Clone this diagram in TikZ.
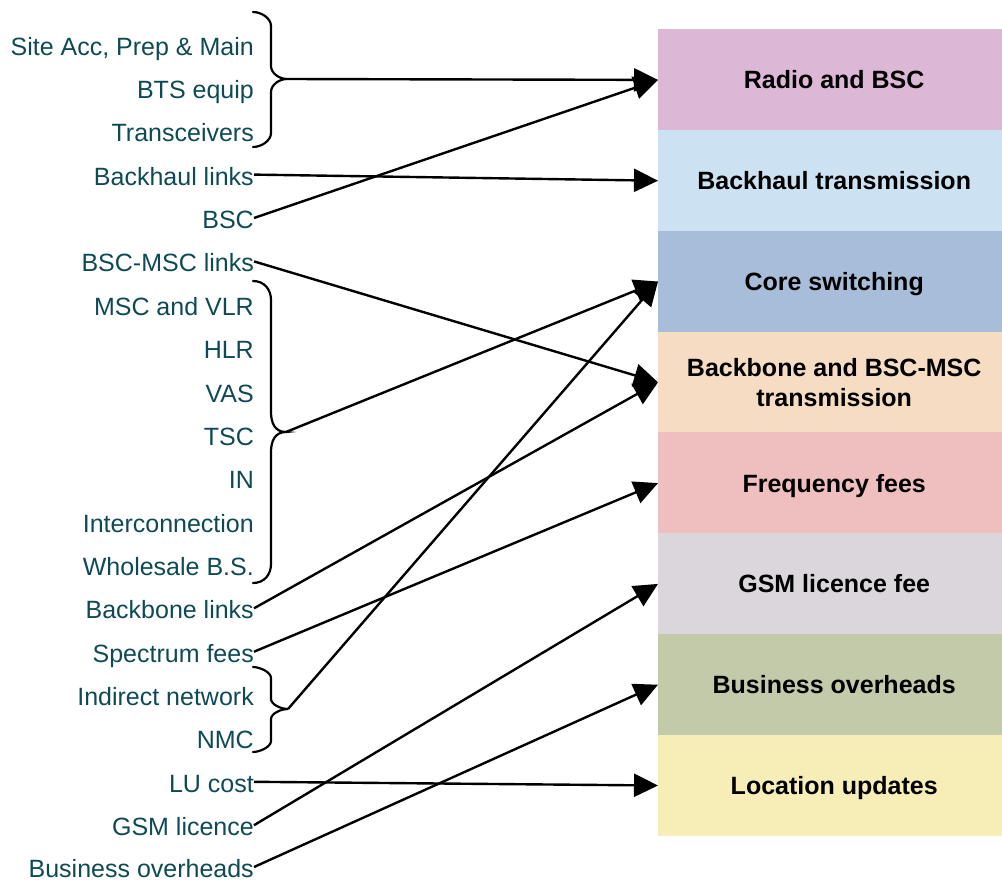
\documentclass[tikz,border=0pt]{standalone}
\usepackage{fontspec}
\setmainfont{Liberation Sans}
\usetikzlibrary{arrows.meta}
\definecolor{txt}{HTML}{0E4A54}
\definecolor{cRadio}{HTML}{DCB8D6}
\definecolor{cBackhaul}{HTML}{CCE2F2}
\definecolor{cCore}{HTML}{A8BDDA}
\definecolor{cBackbone}{HTML}{F6DCC3}
\definecolor{cFreq}{HTML}{EFBFC0}
\definecolor{cGSM}{HTML}{DBD6DB}
\definecolor{cBus}{HTML}{C3CAA9}
\definecolor{cLoc}{HTML}{F6EDB7}
\newcommand\mybrace[6]{%
  \draw[bracestyle] (253,#1) .. controls ({253+#4*0.6},#1) and (271,{#1+#4*0.45}) .. (271,{#1+#4})
    -- (271,{#2-#5}) .. controls (271,{#2-#5*0.45}) and ({287-#5*0.6},#2) .. (#6)
    .. controls ({287-#5*0.6},#2) and (271,{#2+#5*0.45}) .. (271,{#2+#5})
    -- (271,{#3-#4}) .. controls (271,{#3-#4*0.45}) and ({253+#4*0.6},#3) .. (253,#3);}
\begin{document}
\begin{tikzpicture}[x=1pt,y=-1pt,
  lbl/.style={anchor=base east,inner sep=0pt,text=txt,font=\fontsize{25}{30}\selectfont,text height=21pt,text depth=0pt},
  cbox/.style={anchor=west,inner sep=0pt,minimum width=352pt,minimum height=101.3pt,font=\fontsize{25}{30}\selectfont\bfseries,align=center,fill=#1},
  single/.style={text height=18pt,text depth=0pt},
  arr/.style={line width=2.4pt,-{Triangle[length=24pt,width=23pt]}},
  bracestyle/.style={line width=2.2pt,line cap=round}]
\useasboundingbox (0,0) rectangle (1002,881);
% right boxes
\node[cbox=cRadio,single]    (r0) at (658,79.9)  {Radio and BSC};
\node[cbox=cBackhaul,single] (r1) at (658,180.7) {Backhaul transmission};
\node[cbox=cCore,single]     (r2) at (658,281.5) {Core switching};
\node[cbox=cBackbone]        (r3) at (658,382.3) {Backbone and BSC-MSC\\transmission};
\node[cbox=cFreq,single]     (r4) at (658,483.1) {Frequency fees};
\node[cbox=cGSM,single]      (r5) at (658,583.9) {GSM licence fee};
\node[cbox=cBus,single]      (r6) at (658,684.7) {Business overheads};
\node[cbox=cLoc,single]      (r7) at (658,785.5) {Location updates};
% left labels
\node[lbl] (l0)  at (254,55.0)  {Site Acc, Prep \& Main};
\node[lbl] (l1)  at (254,98.4)  {BTS equip};
\node[lbl] (l2)  at (254,141.7) {Transceivers};
\node[lbl] (l3)  at (254,185.1) {Backhaul links};
\node[lbl] (l4)  at (254,228.5) {BSC};
\node[lbl] (l5)  at (254,271.9) {BSC-MSC links};
\node[lbl] (l6)  at (254,315.2) {MSC and VLR};
\node[lbl] (l7)  at (254,358.6) {HLR};
\node[lbl] (l8)  at (254,402.0) {VAS};
\node[lbl] (l9)  at (254,445.3) {TSC};
\node[lbl] (l10) at (254,488.7) {IN};
\node[lbl] (l11) at (254,532.1) {Interconnection};
\node[lbl] (l12) at (254,575.4) {Wholesale B.S.};
\node[lbl] (l13) at (254,618.8) {Backbone links};
\node[lbl] (l14) at (254,662.2) {Spectrum fees};
\node[lbl] (l15) at (254,705.6) {Indirect network};
\node[lbl] (l16) at (254,748.9) {NMC};
\node[lbl] (l17) at (254,792.3) {LU cost};
\node[lbl] (l18) at (254,835.7) {GSM licence};
\node[lbl] (l19) at (254,877.5) {Business overheads};
% braces
\coordinate (b1) at (287,79);
\coordinate (b2) at (286,432);
\coordinate (b3) at (288,709);
\mybrace{12}{79}{147}{14}{13}{b1}
\mybrace{281}{432}{583}{19}{20}{b2}
\mybrace{667}{709}{752}{11}{10}{b3}
% connectors
\draw[arr] (b1) -- (r0.west);
\draw[arr] (l4.east) -- (r0.west);
\draw[arr] (l3.east) -- (r1.west);
\draw[arr] (l5.east) -- (r3.west);
\draw[arr] (b2) -- (r2.west);
\draw[arr] (l13.east) -- (r3.west);
\draw[arr] (l14.east) -- (r4.west);
\draw[arr] (b3) -- (r2.west);
\draw[arr] (l17.east) -- (r7.west);
\draw[arr] (l18.east) -- (r5.west);
\draw[arr] (l19.east) -- (r6.west);
\end{tikzpicture}
\end{document}
